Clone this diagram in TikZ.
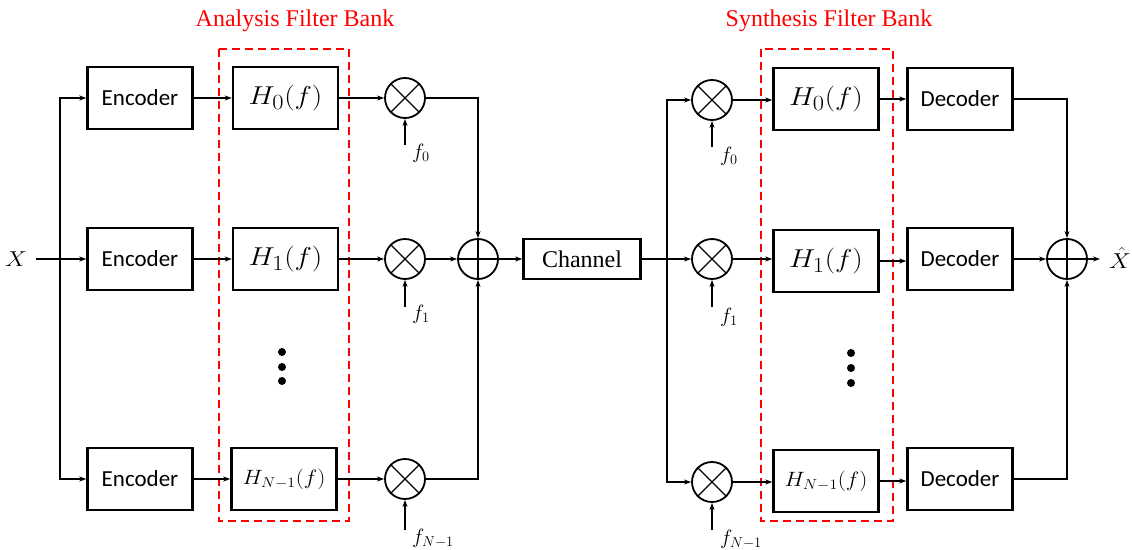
\documentclass[tikz,border=0pt]{standalone}
\usepackage{graphicx}
\usepackage{fontspec}
\newfontfamily\calib{Carlito}
\newfontfamily\timesf{Liberation Serif}
\usetikzlibrary{arrows.meta}
\newcommand{\hwide}[1]{\scalebox{1.18}[1.04]{#1}}
\newcommand{\hwidesm}[1]{\scalebox{1.1}[1.0]{#1}}
\begin{document}
\begin{tikzpicture}[x=1pt,y=-1pt,
  blk/.style={draw, line width=2.4pt, minimum width=105pt, minimum height=62pt, inner sep=0pt},
  enctext/.style={blk, font=\calib\fontsize{23}{26}\selectfont},
  htext/.style={blk, font=\fontsize{24.88}{30}\selectfont},
  hsmall/.style={blk, font=\fontsize{20.74}{26}\selectfont},
  chbox/.style={draw, line width=2.4pt, minimum width=117pt, minimum height=40pt, inner sep=0pt, font=\timesf\fontsize{24}{28}\selectfont},
  op/.style={draw, circle, line width=1.8pt, minimum size=40pt, inner sep=0pt},
  conn/.style={line width=1.1pt},
  arr/.style={conn, -{Stealth[length=7pt,width=5pt]}},
  bank/.style={draw=red, line width=2.5pt, dash pattern=on 8pt off 5pt},
  title/.style={text=red, font=\timesf\fontsize{24}{28}\selectfont},
  flab/.style={font=\fontsize{20.74}{24}\selectfont, inner sep=0pt},
  dot/.style={fill=black, circle, minimum size=8pt, inner sep=0pt}
]
\useasboundingbox (0,0) rectangle (1132,549);

% titles and dashed banks
\node[title] (tA) at (295,21) {Analysis Filter Bank};
\node[title] (tS) at (829,21) {Synthesis Filter Bank};
\draw[bank] (219,49) rectangle (349,521);
\draw[bank] (761,49) rectangle (893,521);

% analysis side
\node[font=\fontsize{20.74}{26}\selectfont, inner sep=0pt] (X) at (16,259) {\hwide{$X$}};
\node[enctext] (enc0) at (140,98) {Encoder};
\node[enctext] (enc1) at (140,259) {Encoder};
\node[enctext] (enc2) at (140,479) {Encoder};
\node[htext] (ha0) at (285.5,98) {\hwide{$H_0(f)$}};
\node[htext] (ha1) at (285.5,259) {\hwide{$H_1(f)$}};
\node[hsmall] (ha2) at (284,479) {\hwidesm{$H_{N-1}(f)$}};
\node[op] (ma0) at (405,98) {};
\node[op] (ma1) at (405,259) {};
\node[op] (ma2) at (405,479) {};
\node[op] (sa) at (478,259) {};
\node[chbox] (chan) at (582,259) {Channel};

% synthesis side
\node[op] (mb0) at (712,100) {};
\node[op] (mb1) at (712,259) {};
\node[op] (mb2) at (712,482) {};
\node[htext] (hb0) at (826,99) {\hwide{$H_0(f)$}};
\node[htext] (hb1) at (826,261) {\hwide{$H_1(f)$}};
\node[hsmall] (hb2) at (826,481) {\hwidesm{$H_{N-1}(f)$}};
\node[enctext] (dec0) at (960,99) {Decoder};
\node[enctext] (dec1) at (960,259) {Decoder};
\node[enctext] (dec2) at (960,479) {Decoder};
\node[op] (sb) at (1067,259) {};
\node[font=\fontsize{20.74}{26}\selectfont, inner sep=0pt] (Xh) at (1120,258) {\hwide{$\hat{X}$}};

% operator symbols
\foreach \m in {ma0,ma1,ma2,mb0,mb1,mb2}{
  \draw[line width=1.3pt] (\m.north east) -- (\m.south west);
  \draw[line width=1.3pt] (\m.north west) -- (\m.south east);
}
\foreach \s in {sa,sb}{
  \draw[line width=1.3pt] (\s.north) -- (\s.south);
  \draw[line width=1.3pt] (\s.west) -- (\s.east);
}

% dots
\node[dot] (da1) at (282,352) {};
\node[dot] (da2) at (282,367) {};
\node[dot] (da3) at (282,381) {};
\node[dot] (db1) at (851,353) {};
\node[dot] (db2) at (851,368) {};
\node[dot] (db3) at (851,383) {};

% carrier labels
\node[flab] (fa0) at (421,153) {$f_0$};
\node[flab] (fa1) at (421,314) {$f_1$};
\node[flab] (fa2) at (433,538) {$f_{N-1}$};
\node[flab] (fb0) at (729,156) {$f_0$};
\node[flab] (fb1) at (729,317) {$f_1$};
\node[flab] (fb2) at (741,539) {$f_{N-1}$};
\coordinate (ca0) at (405,145);
\coordinate (ca1) at (405,307);
\coordinate (ca2) at (405,530);
\coordinate (cb0) at (712,147);
\coordinate (cb1) at (712,307);
\coordinate (cb2) at (712,530);
\foreach \c/\m in {ca0/ma0,ca1/ma1,ca2/ma2,cb0/mb0,cb1/mb1,cb2/mb2}{
  \draw[arr] (\c) -- (\m.south);
}

% analysis connections
\coordinate (xin) at (36,259);
\coordinate (bra) at (60,259);
\draw[arr] (xin) -- (enc1.west);
\draw[arr] (bra) |- (enc0.west);
\draw[arr] (bra) |- (enc2.west);
\foreach \i in {0,1,2}{
  \draw[arr] (enc\i.east) -- (ha\i.west);
  \draw[arr] (ha\i.east) -- (ma\i.west);
}
\draw[arr] (ma0.east) -| (sa.north);
\draw[arr] (ma1.east) -- (sa.west);
\draw[arr] (ma2.east) -| (sa.south);
\draw[arr] (sa.east) -- (chan.west);

% synthesis connections
\coordinate (brb) at (667,259);
\draw[arr] (chan.east) -- (mb1.west);
\draw[arr] (brb) |- (mb0.west);
\draw[arr] (brb) |- (mb2.west);
\foreach \i in {0,1,2}{
  \draw[arr] (mb\i.east) -- (hb\i.west |- mb\i.east);
  \draw[arr] (hb\i.east) -- (dec\i.west |- hb\i.east);
}
\draw[arr] (dec0.east) -| (sb.north);
\draw[arr] (dec1.east) -- (sb.west);
\draw[arr] (dec2.east) -| (sb.south);
\coordinate (xout) at (1100,259);
\draw[arr] (sb.east) -- (xout);
\end{tikzpicture}
\end{document}
